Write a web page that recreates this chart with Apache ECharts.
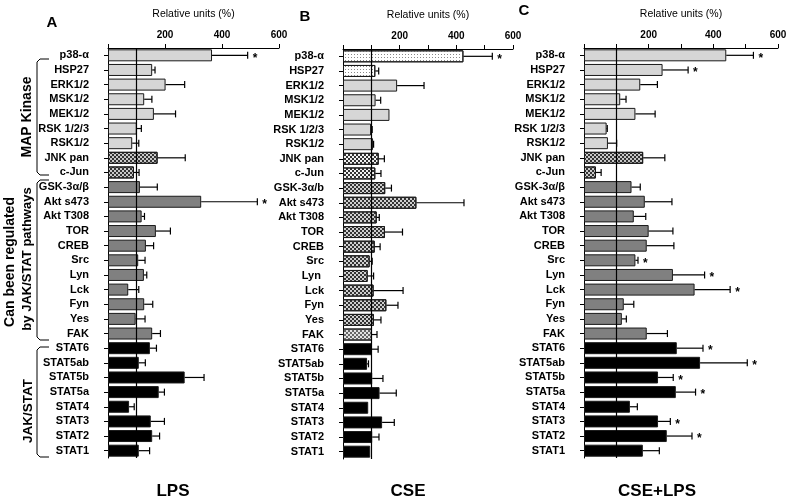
<!DOCTYPE html>
<html><head><meta charset="utf-8">
<script src="https://cdn.jsdelivr.net/npm/echarts@6/dist/echarts.min.js"></script>
<style>html,body{margin:0;padding:0;background:#fff}#c{width:790px;height:500px}</style>
</head><body><div id="c"></div><script>
// ---- data ----
const categories = ['p38-α','HSP27','ERK1/2','MSK1/2','MEK1/2','RSK 1/2/3','RSK1/2','JNK pan','c-Jun','GSK-3α/β','Akt s473','Akt T308','TOR','CREB','Src','Lyn','Lck','Fyn','Yes','FAK','STAT6','STAT5ab','STAT5b','STAT5a','STAT4','STAT3','STAT2','STAT1'];
const categoriesB = ['p38-α','HSP27','ERK1/2','MSK1/2','MEK1/2','RSK 1/2/3','RSK1/2','JNK pan','c-Jun','GSK-3α/b','Akt s473','Akt T308','TOR','CREB','Src','Lyn ','Lck','Fyn','Yes','FAK','STAT6','STAT5ab','STAT5b','STAT5a','STAT4','STAT3','STAT2','STAT1'];
const groups = ['map','map','map','map','map','map','map','jnk','jnk','reg','reg','reg','reg','reg','reg','reg','reg','reg','reg','reg','stat','stat','stat','stat','stat','stat','stat','stat'];
const xTicks = [200, 400, 600];

const lpsMean = [365,155,202,127,161,101,85,174,91,112,327,118,168,133,106,126,71,127,97,155,147,108,269,178,74,150,155,108];
const lpsErr  = [125,10,67,27,76,16,23,97,18,61,197,10,51,27,24,10,37,30,33,29,23,23,68,20,18,48,26,38];
const lpsSig  = [1,0,0,0,0,0,0,0,0,0,1,0,0,0,0,0,0,0,0,0,0,0,0,0,0,0,0,0];

const cseMean = [425,114,191,115,164,99,106,126,114,149,259,119,148,112,94,87,108,153,109,102,102,85,103,129,89,138,103,96];
const cseErr  = [102,12,95,18,0,4,2,20,20,22,168,9,62,19,9,21,104,41,25,18,22,5,38,59,0,43,24,0];
const cseSig  = [1,0,0,0,0,0,0,0,0,0,0,0,0,0,0,0,0,0,0,0,0,0,0,0,0,0,0,0];

const bothMean = [440,243,174,112,159,70,74,183,37,147,188,154,200,194,159,275,342,123,117,194,287,359,229,284,142,229,256,182];
const bothErr  = [84,79,53,18,61,2,27,67,16,27,84,37,75,84,8,98,110,31,14,64,81,146,47,61,23,38,78,51];
const bothSig  = [1,1,0,0,0,0,0,0,0,0,0,0,0,0,1,1,1,0,0,0,1,1,1,1,0,1,1,0];

// ---- styles ----
const FONT = "'Liberation Sans', Arial, Helvetica, sans-serif";
const checker = {symbol:'rect', symbolSize:1, dashArrayX:[[2,2],[0,2,2,0]], dashArrayY:[2,0], color:'#333'};
const checkerLight = {symbol:'rect', symbolSize:1, dashArrayX:[[2,2],[0,2,2,0]], dashArrayY:[2,0], color:'#666'};
const dots = {symbol:'rect', symbolSize:1, dashArrayX:[1,2], dashArrayY:[1,2], color:'#888'};

function barStyle(panel, i) {
  const g = groups[i];
  const base = {borderColor:'#1a1a1a', borderWidth:1};
  if (g === 'stat') return Object.assign(base, {color:'#000'});
  if (g === 'jnk') {
    if (panel === 'B') return Object.assign(base, {color:'#f2f2f2', decal:checker});
    return Object.assign(base, {color:'#c8c8c8', decal:checker});
  }
  if (g === 'map') {
    if (panel === 'B' && i < 2) return Object.assign(base, {color:'#ffffff', decal:dots});
    return Object.assign(base, {color:'#d6d6d6'});
  }
  // reg
  if (panel === 'B') {
    if (categories[i] === 'FAK') return Object.assign(base, {color:'#e2e2e2', decal:checkerLight});
    return Object.assign(base, {color:'#cfcfcf', decal:checker});
  }
  return Object.assign(base, {color:'#808080'});
}

const panels = [
  {key:'A', cats:categories,  mean:lpsMean,  err:lpsErr,  sig:lpsSig,  left:108, width:171, top:48, interval:200},
  {key:'B', cats:categoriesB, mean:cseMean,  err:cseErr,  sig:cseSig,  left:343, width:170, top:49, interval:100},
  {key:'C', cats:categories,  mean:bothMean, err:bothErr, sig:bothSig, left:584, width:194, top:48, interval:100}
];

const grid = [], xAxis = [], yAxis = [], series = [];
panels.forEach((p, k) => {
  grid.push({left:p.left, top:p.top, width:p.width, height:410, containLabel:false, outerBoundsMode:'none'});
  xAxis.push({
    type:'value', gridIndex:k, position:'top', min:0, max:600, interval:p.interval,
    name:'Relative units (%)', nameLocation:'middle', nameGap:28,
    nameTextStyle:{fontFamily:FONT, fontSize:10.5, color:'#000'},
    axisLine:{show:true, lineStyle:{color:'#000', width:1}},
    axisTick:{show:true, length:4, lineStyle:{color:'#000'}},
    splitLine:{show:false},
    axisLabel:{fontFamily:FONT, fontSize:10, fontWeight:'bold', color:'#000', margin:8,
      showMinLabel:true, showMaxLabel:true,
      formatter: v => xTicks.indexOf(v) >= 0 ? String(v) : ''}
  });
  yAxis.push({
    type:'category', gridIndex:k, inverse:true, data:p.cats,
    axisLine:{show:true, lineStyle:{color:'#000', width:1}},
    axisTick:{show:true, length:4, alignWithLabel:true, lineStyle:{color:'#000'}},
    axisLabel:{fontFamily:FONT, fontSize:11, fontWeight:'bold', color:'#000', margin:19, interval:0},
    splitLine:{show:false}
  });
  series.push({
    type:'bar', xAxisIndex:k, yAxisIndex:k, barWidth:12, silent:true,
    data:p.mean.map((v, i) => ({value:v, itemStyle:barStyle(p.key, i)})),
    markLine:{silent:true, symbol:['none','none'], label:{show:false},
      lineStyle:{color:'#000', width:1.2, type:'solid'}, data:[{xAxis:100}], animation:false},
    animation:false, z:2
  });
  series.push({
    type:'custom', xAxisIndex:k, yAxisIndex:k, silent:true, animation:false, z:5,
    data:p.mean.map((v, i) => [i, v, p.err[i], p.sig[i]]),
    renderItem:(params, api) => {
      const ci = api.value(0), m = api.value(1), e = api.value(2), s = api.value(3);
      const p0 = api.coord([m, ci]), p1 = api.coord([m + e, ci]);
      const ch = [];
      if (e > 0) {
        ch.push({type:'line', shape:{x1:p0[0], y1:p0[1], x2:p1[0], y2:p1[1]}, style:{stroke:'#000', lineWidth:1.2}});
        ch.push({type:'line', shape:{x1:p1[0], y1:p1[1]-3.5, x2:p1[0], y2:p1[1]+3.5}, style:{stroke:'#000', lineWidth:1.2}});
      }
      if (s) ch.push({type:'text', style:{text:'*', x:p1[0]+5, y:p1[1]+3, fill:'#000',
        font:'bold 12px ' + FONT, align:'left', verticalAlign:'middle'}});
      return {type:'group', children:ch};
    }
  });
});

function txt(t, x, y, size, rot, weight) {
  return {type:'text', x:x, y:y, rotation:rot || 0, silent:true,
    style:{text:t, x:0, y:0, fill:'#000', font:(weight||'bold') + ' ' + size + 'px ' + FONT, align:'center', verticalAlign:'middle'}};
}
function bracket(y1, y2) {
  return {type:'polyline', silent:true,
    shape:{points:[[49,y1],[40,y1],[37,y1+3],[37,y2-3],[40,y2],[49,y2]]},
    style:{stroke:'#000', lineWidth:1, fill:null}};
}
const R = Math.PI / 2;
const graphic = [
  txt('A', 52, 23, 15), txt('B', 305, 17, 15), txt('C', 524, 11, 15),
  txt('LPS', 173, 491, 17), txt('CSE', 408, 491, 17), txt('CSE+LPS', 657, 491, 17),
  txt('MAP Kinase', 27, 117, 14, R), txt('Can been regulated', 10, 262, 14, R),
  txt('by JAK/STAT pathways', 27, 259, 13, R), txt('JAK/STAT', 28, 411, 13.5, R),
  bracket(59, 175), bracket(180, 340), bracket(347, 457)
];

const chart = echarts.init(document.getElementById('c'), null, {renderer:'canvas'});
chart.setOption({backgroundColor:'#fff', animation:false, grid, xAxis, yAxis, series, graphic});
</script></body></html>
